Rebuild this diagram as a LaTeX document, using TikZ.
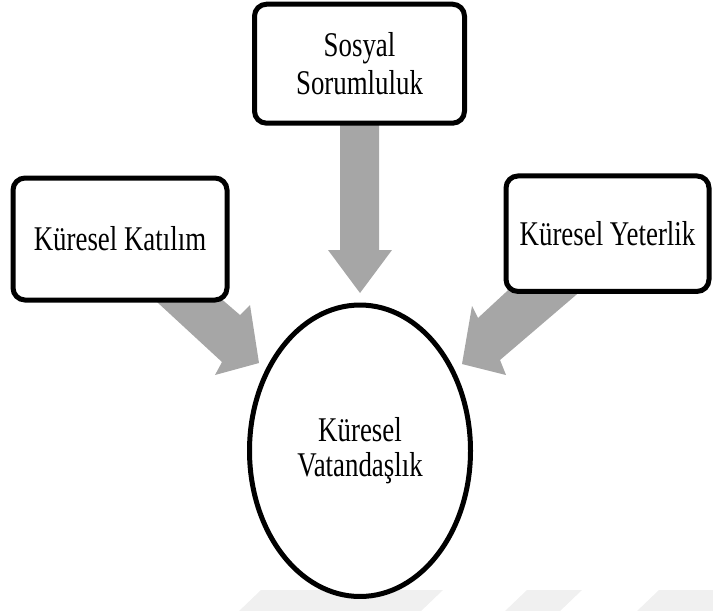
\documentclass[tikz,border=0pt]{standalone}
\usepackage{fontspec}
\setmainfont{Liberation Serif}[FakeStretch=0.775]
\usetikzlibrary{shapes.geometric}
\definecolor{arrowgray}{RGB}{166,166,166}
\definecolor{markgray}{RGB}{240,240,240}
\tikzset{
  concept/.style={draw=black, line width=3.75pt, rounded corners=9pt, fill=white,
    align=center, inner sep=0pt, font=\fontsize{26}{28.5}\selectfont},
  core/.style={draw=black, line width=3.75pt, ellipse, fill=white, inner sep=0pt,
    align=center, font=\fontsize{26}{26.5}\selectfont},
  blockarrow/.style={fill=arrowgray, draw=none},
  stripe/.style={fill=markgray, draw=none}
}
\begin{document}
\begin{tikzpicture}[x=0.75pt, y=-0.75pt]
\useasboundingbox (0,0) rectangle (713,610);

% faint diagonal stripes along the bottom edge
\fill[stripe] (261,590) -- (443,590) -- (420,612) -- (238,612) -- cycle;
\fill[stripe] (527,590) -- (582,590) -- (559,612) -- (504,612) -- cycle;
\fill[stripe] (659,590) -- (720,590) -- (720,612) -- (636,612) -- cycle;

% block arrows pointing at the centre (drawn first, boxes cover their tails)
\fill[blockarrow] (340,120) -- (379,120) -- (379,250) -- (392,250) -- (360,293)
  -- (328,250) -- (340,250) -- cycle;
\fill[blockarrow] (144,290) -- (211,290) -- (240,315) -- (250,305) -- (259,363)
  -- (215,375) -- (222,362) -- cycle;
\fill[blockarrow] (513.6,285) -- (587.7,285) -- (500,360) -- (506,375) -- (462,364)
  -- (472,306) -- (478,318) -- cycle;

% the three components
\node[concept, minimum width=157.5pt, minimum height=89.25pt] (sosyal) at (359.5,63.7)
  {Sosyal\\Sorumluluk};
\node[concept, minimum width=160.5pt, minimum height=91.5pt] (katilim) at (120,239)
  {Küresel Katılım};
\node[concept, minimum width=152.25pt, minimum height=86.6pt] (yeterlik) at (607.5,233.7)
  {Küresel Yeterlik};

% the central concept
\node[core, minimum width=165.75pt, minimum height=218.6pt] (vatandaslik) at (360,450.75)
  {Küresel\\Vatandaşlık};
\end{tikzpicture}
\end{document}
